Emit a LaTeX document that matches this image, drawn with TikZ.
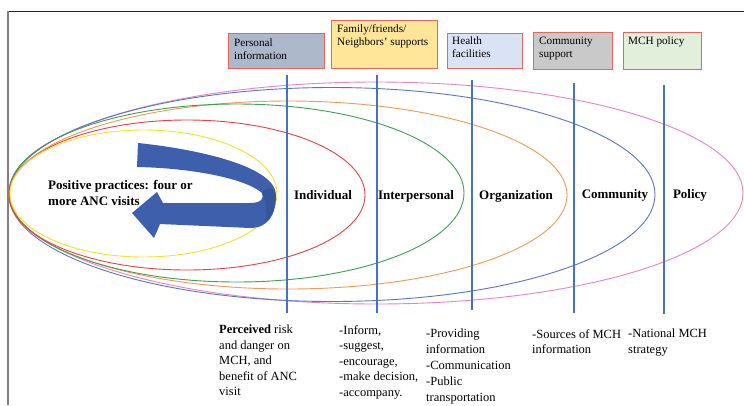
\documentclass[tikz,border=0pt]{standalone}
\usepackage{fontspec}
\setmainfont{Liberation Serif}
\definecolor{boxred}{RGB}{238,98,88}
\definecolor{fillA}{RGB}{173,185,202}
\definecolor{fillB}{RGB}{255,230,153}
\definecolor{fillC}{RGB}{218,227,243}
\definecolor{fillD}{RGB}{201,201,201}
\definecolor{fillE}{RGB}{226,239,218}
\definecolor{vline}{RGB}{68,114,196}
\definecolor{arrowblue}{RGB}{62,96,172}
\definecolor{ellYellow}{RGB}{240,228,40}
\definecolor{ellRed}{RGB}{236,62,62}
\definecolor{ellGreen}{RGB}{62,158,82}
\definecolor{ellOrange}{RGB}{246,150,82}
\definecolor{ellBlue}{RGB}{90,115,200}
\definecolor{ellPink}{RGB}{236,130,190}
\begin{document}
\begin{tikzpicture}[x=1pt,y=-1pt,
  topbox/.style={draw=boxred, line width=1.1pt, inner sep=0, anchor=north west},
  boxtext/.style={font=\fontsize{11.2}{13}\selectfont, align=left, anchor=north west, inner sep=0},
  lvl/.style={font=\fontsize{13}{15}\selectfont\bfseries, anchor=base, inner sep=0},
  bodytext/.style={font=\fontsize{12.5}{15.5}\selectfont, align=left, anchor=north west, inner sep=0},
  ell/.style={line width=0.9pt},
  vbar/.style={draw=vline, line width=1.8pt}]
\useasboundingbox (0,0) rectangle (744,405);
% frame
\draw[line width=0.9pt, black!85] (7,11) -- (744,11);
\draw[line width=1.5pt, black!50] (8,11) -- (8,405);
% ellipses
\draw[ell, ellPink] (376,193) ellipse [x radius=367pt, y radius=111pt];
\draw[ell, ellBlue] (332,194.5) ellipse [x radius=323pt, y radius=107pt];
\draw[ell, ellOrange] (288,195) ellipse [x radius=279pt, y radius=94pt];
\draw[ell, ellGreen] (236.5,193) ellipse [x radius=227.5pt, y radius=89pt];
\draw[ell, ellRed] (187,195) ellipse [x radius=178pt, y radius=75pt];
\draw[ell, ellYellow] (143.5,193.5) ellipse [x radius=133.5pt, y radius=63.5pt];
% curved arrow
\fill[arrowblue] (138,143) .. controls (205,150) and (276,168) .. (276,195)
  .. controls (276,215) and (268,228) .. (250,228)
  -- (160,224) -- (154,238) -- (132,213) -- (157,192) -- (163,203)
  -- (250,203) .. controls (262,203) and (264,198) .. (262,193)
  .. controls (245,178) and (190,168) .. (137,167) -- cycle;
\fill[arrowblue!70!black, opacity=0.35] (262,193) .. controls (266,186) and (274,186) .. (276,195)
  .. controls (276,208) and (272,218) .. (264,222) .. controls (268,212) and (266,200) .. (262,193) -- cycle;
% top boxes
\node[topbox, fill=fillA, minimum width=96pt, minimum height=35pt] (boxA) at (228,33) {};
\node[topbox, fill=fillB, minimum width=106pt, minimum height=48pt] (boxB) at (331,20) {};
\node[topbox, fill=fillC, minimum width=75pt, minimum height=35pt] (boxC) at (447,33) {};
\node[topbox, fill=fillD, minimum width=79pt, minimum height=37pt] (boxD) at (533,32) {};
\node[topbox, fill=fillE, minimum width=78pt, minimum height=37pt] (boxE) at (623,32) {};
\node[boxtext] (tA) at (234,39) {Personal\\information};
\node[boxtext] (tB) at (337,24) {Family/friends/\\Neighbors' supports};
\node[boxtext] (tC) at (452,37) {Health\\facilities};
\node[boxtext] (tD) at (539,37) {Community\\support};
\node[boxtext] (tE) at (628,37) {MCH policy};
% vertical lines
\coordinate (v1t) at (287,75); \coordinate (v1b) at (287,313);
\coordinate (v2t) at (377,75); \coordinate (v2b) at (377,313);
\coordinate (v3t) at (472,80); \coordinate (v3b) at (472,310);
\coordinate (v4t) at (574,83); \coordinate (v4b) at (574,313);
\coordinate (v5t) at (664,85); \coordinate (v5b) at (664,314);
\draw[vbar] (v1t) -- (v1b);
\draw[vbar] (v2t) -- (v2b);
\draw[vbar] (v3t) -- (v3b);
\draw[vbar] (v4t) -- (v4b);
\draw[vbar] (v5t) -- (v5b);
% level labels
\node[lvl] (lInd) at (323,199) {Individual};
\node[lvl] (lInt) at (416,199) {Interpersonal};
\node[lvl] (lOrg) at (516,199) {Organization};
\node[lvl] (lCom) at (615,198) {Community};
\node[lvl] (lPol) at (690,198) {Policy};
\node[bodytext, font=\fontsize{13}{16}\selectfont\bfseries] (pos) at (48,180) {Positive practices: four or\\more ANC visits};
% bottom texts
\node[bodytext] (dInd) at (219,325) {\textbf{Perceived} risk\\and danger on\\MCH, and\\benefit of ANC\\visit};
\node[bodytext] (dInt) at (339,325) {-Inform,\\-suggest,\\-encourage,\\-make decision,\\-accompany.};
\node[bodytext, font=\fontsize{12.5}{16}\selectfont] (dOrg) at (426,329) {-Providing\\information\\-Communication\\-Public\\transportation};
\node[bodytext] (dCom) at (532,329) {-Sources of MCH\\information};
\node[bodytext] (dPol) at (628,329) {-National MCH\\strategy};
\end{tikzpicture}
\end{document}
